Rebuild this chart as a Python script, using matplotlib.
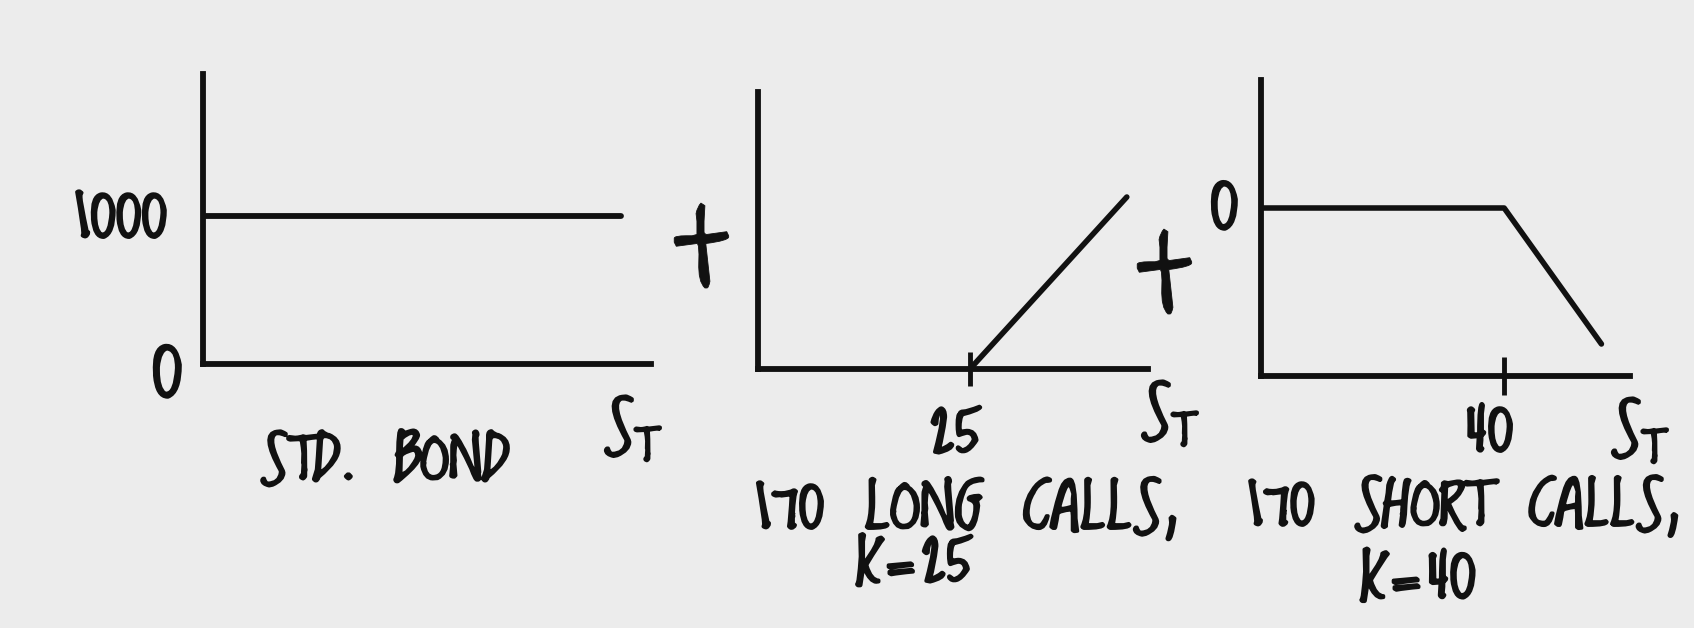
import matplotlib
matplotlib.use("Agg")
import matplotlib.pyplot as plt
import matplotlib.patheffects as pe
from matplotlib.transforms import Affine2D

# payoff diagrams at maturity
bond_s = [0, 56]
bond_value = [1000, 1000]
bond_ticks = [0, 1000]

long_strike = 25
long_s = [25, 43.5]
long_payoff = [0, 3145]

short_strike = 40
short_s = [0, 40, 56]
short_payoff = [0, 0, -2720]

captions = ["STD. BOND", "170 LONG CALLS,", "K=25", "170 SHORT CALLS,", "K=40"]

W, H = 1694, 628
INK = "#111111"
PAPER = "#ececec"
HAND = "Loved by the King"

plt.rcParams["font.family"] = [HAND, "DejaVu Sans"]
plt.rcParams["mathtext.fontset"] = "custom"
plt.rcParams["mathtext.rm"] = HAND


class Marker(pe.AbstractPathEffect):
    """Thick felt-pen lettering, widened about the centre of the text."""

    def __init__(self, sx=1.3, sy=1.0, width=2.4):
        super().__init__()
        self.sx, self.sy, self.width = sx, sy, width

    def draw_path(self, renderer, gc, tpath, affine, rgbFace=None):
        ext = affine.transform_path(tpath).get_extents()
        cx, cy = ext.x0 + ext.width / 2, ext.y0 + ext.height / 2
        affine = affine + Affine2D().translate(-cx, -cy).scale(self.sx, self.sy).translate(cx, cy)
        gc0 = renderer.new_gc()
        gc0.copy_properties(gc)
        gc0.set_linewidth(self.width)
        gc0.set_foreground(INK)
        renderer.draw_path(gc0, tpath, affine, rgbFace)
        gc0.restore()


pen = [Marker()]

fig = plt.figure(figsize=(W / 100, H / 100), dpi=100, facecolor=PAPER)


def px(x, y):
    return x / W, 1 - y / H


def add_panel(left, top, right, bottom, xlim, ylim):
    ax = fig.add_axes([left / W, 1 - bottom / H, (right - left) / W, (bottom - top) / H])
    ax.set_xlim(*xlim)
    ax.set_ylim(*ylim)
    ax.patch.set_alpha(0)
    for side in ["top", "right"]:
        ax.spines[side].set_visible(False)
    for side in ["left", "bottom"]:
        ax.spines[side].set_linewidth(4.2)
        ax.spines[side].set_color(INK)
        ax.spines[side].set_capstyle("projecting")
    ax.set_xticks([])
    ax.set_yticks([])
    return ax


def label(ax, text, xy, offset, size):
    ax.annotate(text, xy=xy, xytext=offset, textcoords="offset pixels",
                ha="center", va="center", fontsize=size, color=INK,
                annotation_clip=False, path_effects=pen)


def caption(x, y, text, size, effects=pen):
    fig.text(*px(x, y), text, ha="center", va="center", fontsize=size,
             color=INK, path_effects=effects)


st = r"$\mathregular{S_T}$"

# bond
ax1 = add_panel(203, 74, 651, 364, (0, 60), (0, 1960))
ax1.plot(bond_s, bond_value, color=INK, lw=4.2, solid_capstyle="round")
label(ax1, str(bond_ticks[1]), (0, bond_ticks[1]), (-82, -8), 42)
label(ax1, str(bond_ticks[0]), (0, bond_ticks[0]), (-35, -17), 50)
label(ax1, st, (60, 0), (-18, -72), 44)
caption(384, 466, captions[0], 40)

# long calls
ax2 = add_panel(758, 92, 1148, 369, (0, 46), (0, 5065))
ax2.plot(long_s, long_payoff, color=INK, lw=4, solid_capstyle="round")
ax2.plot(long_strike, 0, marker="|", markersize=25, mew=3.5, color=INK, clip_on=False)
label(ax2, str(long_strike), (long_strike, 0), (-15, -71), 42)
label(ax2, st, (46, 0), (22, -52), 44)
caption(968, 515, captions[1], 42)
caption(913, 569, captions[2], 42)

# short calls
ax3 = add_panel(1261, 80, 1630, 376, (0, 60.7), (-3360, 2560))
ax3.plot(short_s, short_payoff, color=INK, lw=4, solid_capstyle="round")
ax3.plot(short_strike, -3360, marker="|", markersize=27, mew=3.5, color=INK, clip_on=False)
label(ax3, str(short_strike), (short_strike, -3360), (-14, -62), 42)
label(ax3, "0", (0, 0), (-36, -6), 46)
label(ax3, st, (60.7, -3360), (10, -62), 44)
caption(1465, 512, captions[3], 41)
caption(1418, 584, captions[4], 43)

# plus signs between the diagrams
plus_pen = [Marker(sx=1.1, sy=1.45, width=0.6)]
for x, y in [(705, 262), (1168, 288)]:
    caption(x, y, "+", 96, plus_pen)

fig.savefig("out.png", dpi=100, facecolor=PAPER)
